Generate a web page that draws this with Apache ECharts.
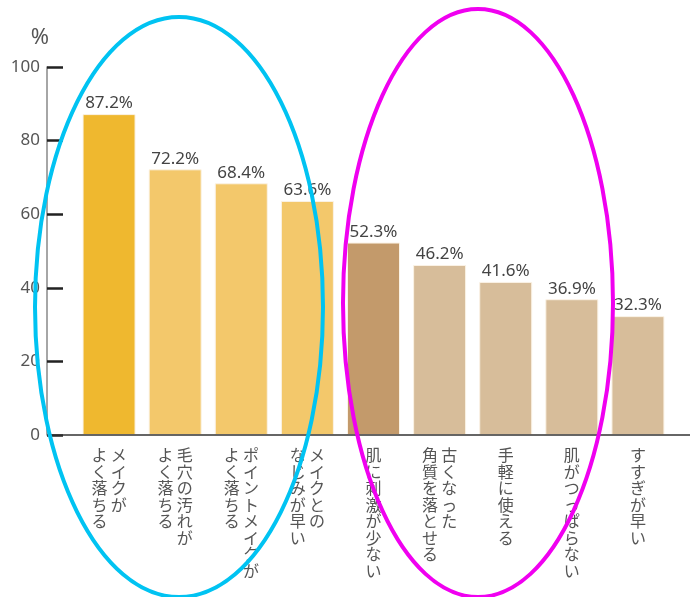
<!DOCTYPE html>
<html>
<head>
<meta charset="utf-8">
<script src="https://cdn.jsdelivr.net/npm/echarts@6/dist/echarts.min.js"></script>
<style>html,body{margin:0;padding:0;background:#fff;}#c{width:690px;height:597px;}</style>
</head>
<body>
<div id="c"></div>
<script>
// Categories: each label is two vertical columns (right column read first)
const categories = [
  ['メイクが', 'よく落ちる'],
  ['毛穴の汚れが', 'よく落ちる'],
  ['ポイントメイクが', 'よく落ちる'],
  ['メイクとの', 'なじみが早い'],
  ['肌に刺激が少ない'],
  ['古くなった', '角質を落とせる'],
  ['手軽に使える'],
  ['肌がつっぱらない'],
  ['すすぎが早い']
];
const values = [87.2, 72.2, 68.4, 63.6, 52.3, 46.2, 41.6, 36.9, 32.3];
const barColors = ['#efb82f', '#f3c86b', '#f3c86b', '#f3c86b', '#c39a6b', '#d7bd9a', '#d7bd9a', '#d7bd9a', '#d7bd9a'];
const yTicks = [0, 20, 40, 60, 80, 100];

function verticalLabel(cols) {
  const chars = cols.map(c => Array.from(c));
  const n = Math.max(...chars.map(c => c.length));
  const lines = [];
  for (let i = 0; i < n; i++) {
    // vertical writing: first column is on the right
    const parts = [];
    for (let k = chars.length - 1; k >= 0; k--) parts.push(chars[k][i] || '\u3000');
    lines.push(parts.join('\u2009'));
  }
  return lines.join('\n');
}

const chart = echarts.init(document.getElementById('c'));
chart.setOption({
  animation: false,
  grid: { left: 76, right: 19, top: 67, bottom: 162 },
  xAxis: {
    type: 'category',
    data: categories.map(c => c.join('|')),
    axisLine: { show: false },
    axisTick: { show: false },
    axisLabel: {
      interval: 0,
      margin: 12,
      fontFamily: 'Noto Sans CJK JP',
      fontSize: 16,
      lineHeight: 16.5,
      color: '#555',
      verticalAlign: 'top',
      formatter: (v, i) => verticalLabel(categories[i])
    }
  },
  yAxis: {
    type: 'value',
    min: 0, max: 100, interval: 20,
    offset: 29,
    name: '%',
    nameLocation: 'end',
    nameGap: 18,
    nameTextStyle: { fontSize: 22, color: '#555', fontFamily: 'Noto Sans', align: 'center', padding: [0, 14, 0, 0] },
    axisLine: { show: true, lineStyle: { color: '#888', width: 1.5 } },
    axisTick: { show: true, inside: true, length: 16, lineStyle: { color: '#222', width: 2.5 } },
    axisLabel: { margin: 7, fontSize: 17, color: '#555', fontFamily: 'Noto Sans',
      formatter: v => yTicks.includes(v) ? String(v) : '' },
    splitLine: { show: false }
  },
  series: [{
    type: 'bar',
    barWidth: 53,
    data: values.map((v, i) => ({ value: v, itemStyle: { color: barColors[i] } })),
    itemStyle: { borderColor: '#fbf3e6', borderWidth: 1 },
    label: {
      show: true, position: 'top', distance: 2,
      formatter: '{c}%', fontSize: 17, color: '#444', fontFamily: 'Noto Sans'
    }
  }]
});

const y0 = chart.convertToPixel({ yAxisIndex: 0 }, 0);
chart.setOption({
  graphic: [
    { type: 'line', shape: { x1: 47, y1: y0, x2: 690, y2: y0 }, style: { stroke: '#333', lineWidth: 1.5 }, z: 10 },
    { type: 'ellipse', shape: { cx: 179, cy: 307, rx: 144, ry: 290 }, style: { fill: null, stroke: '#00c3f2', lineWidth: 4 }, z: 20 },
    { type: 'ellipse', shape: { cx: 478, cy: 303, rx: 135, ry: 294 }, style: { fill: null, stroke: '#f000f0', lineWidth: 4 }, z: 20 }
  ]
});
</script>
</body>
</html>
